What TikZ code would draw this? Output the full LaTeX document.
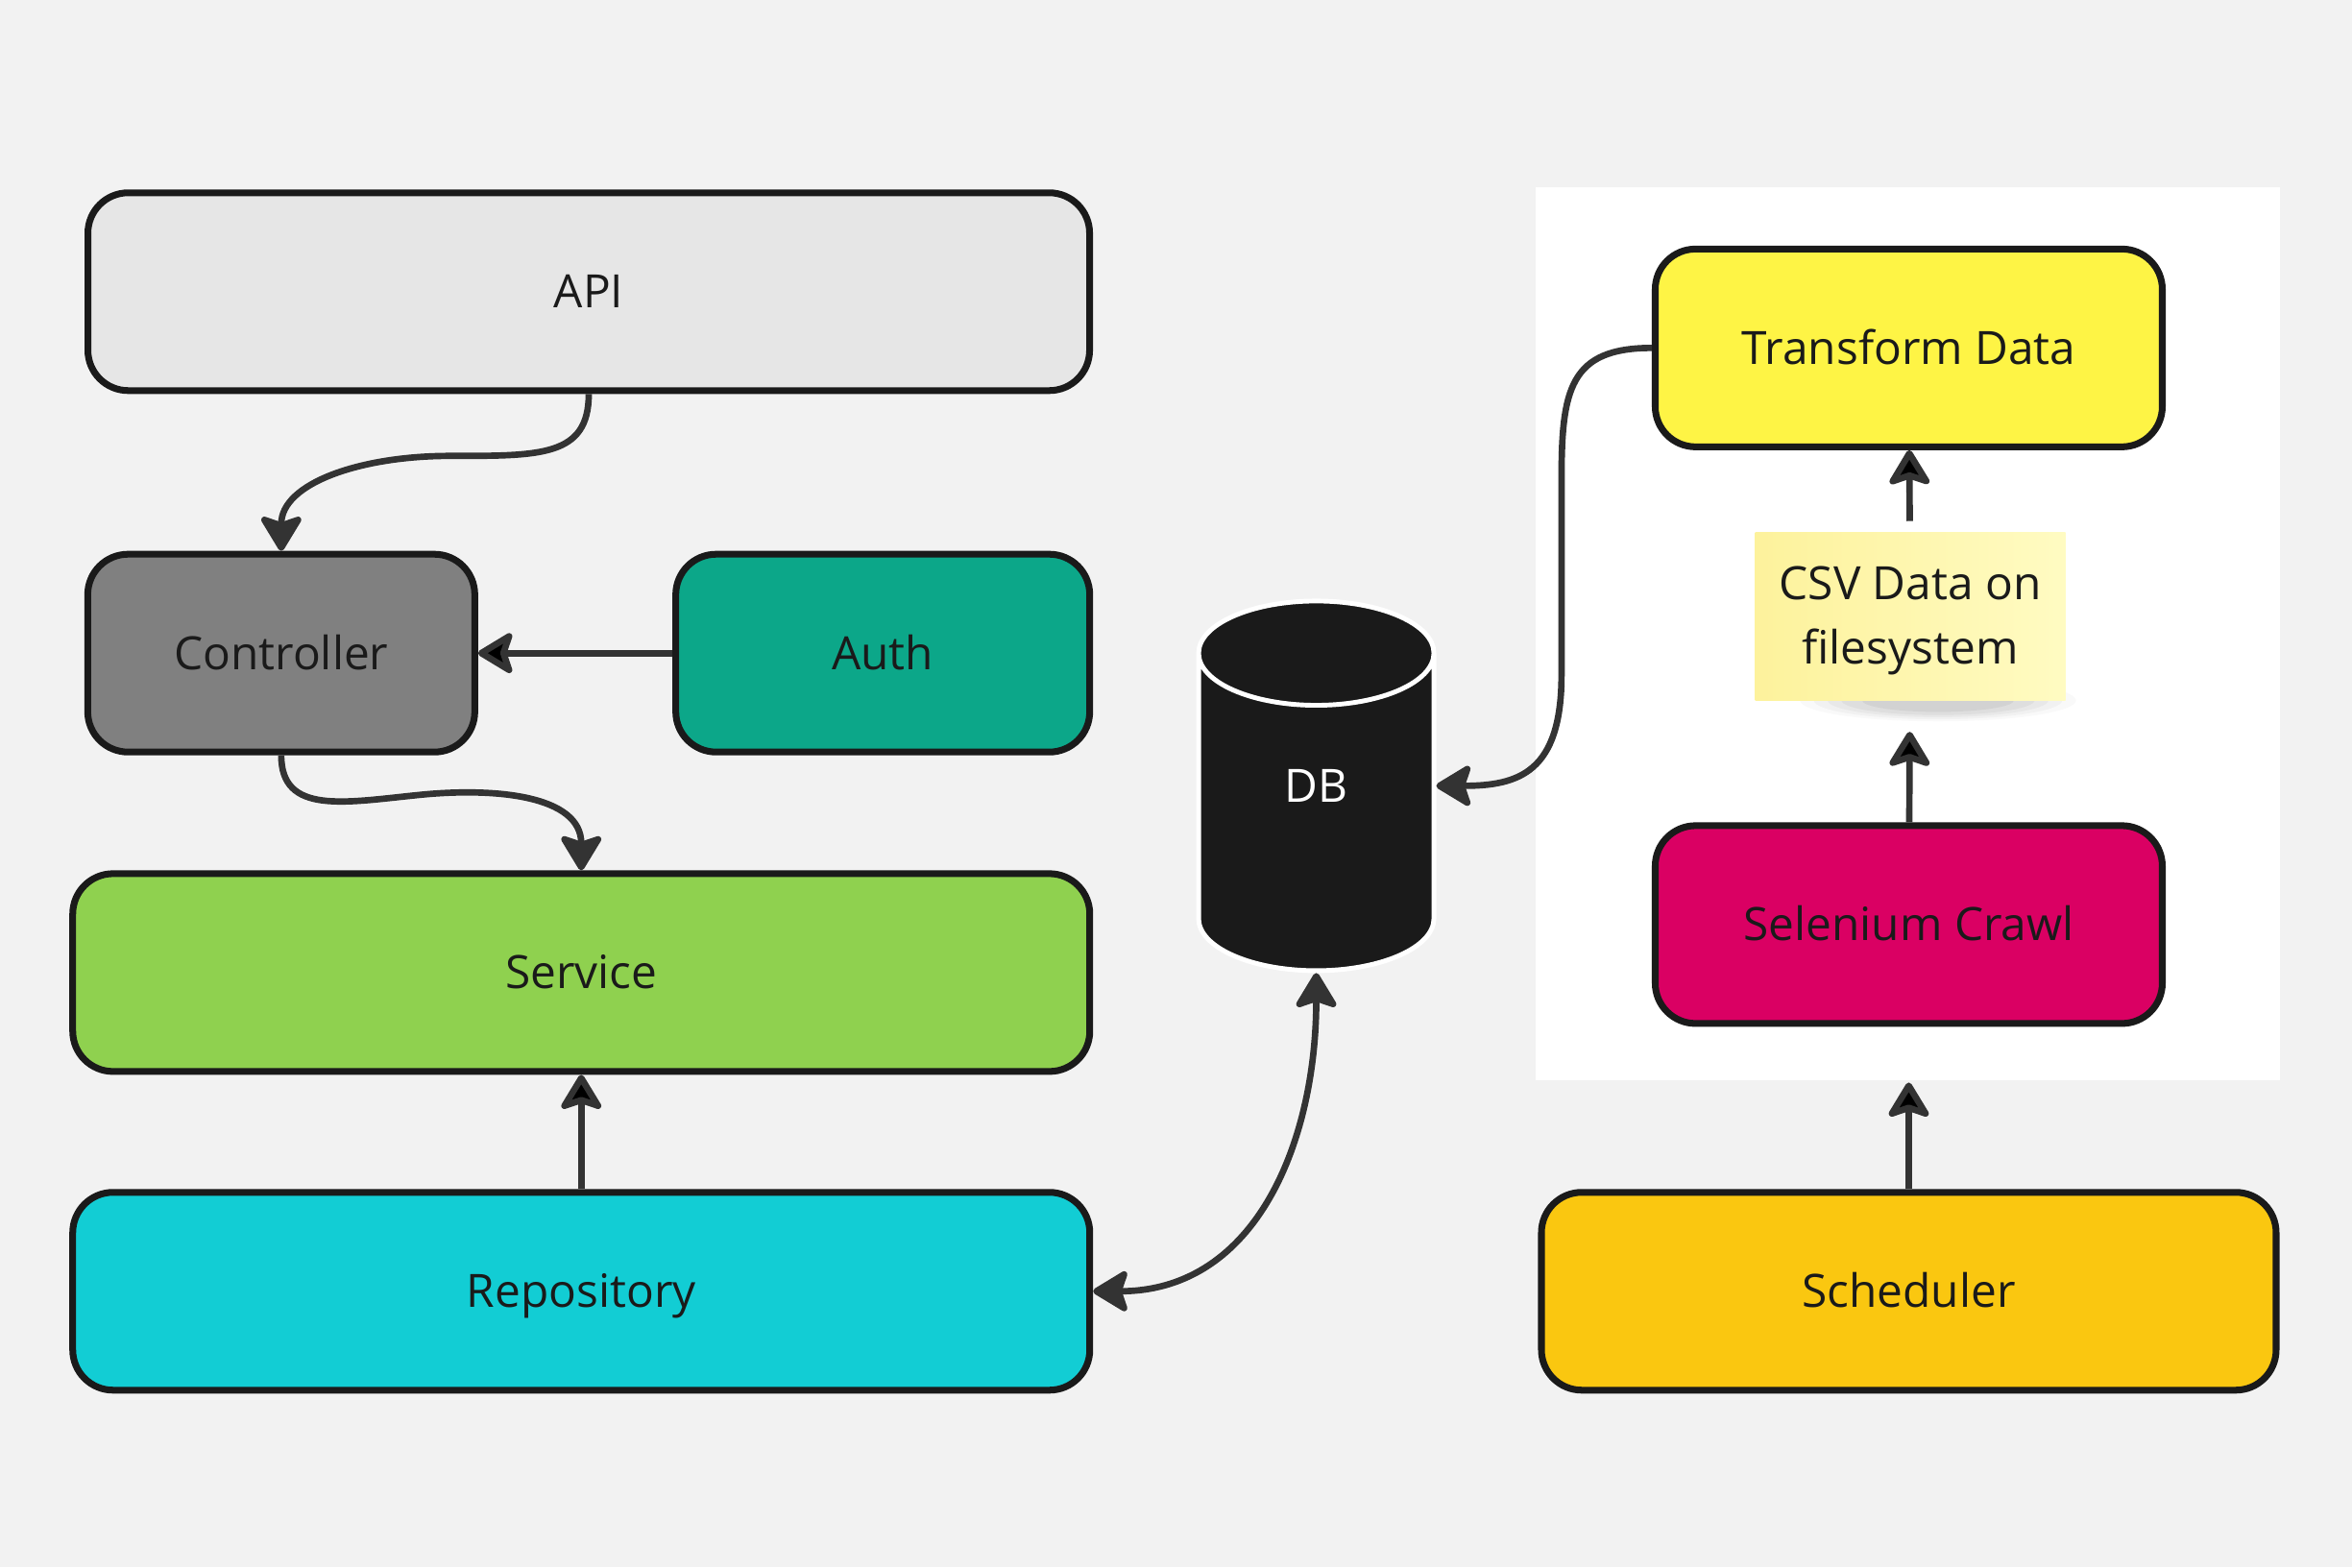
\documentclass[tikz,border=0pt]{standalone}
\usepackage{fontspec}
\setmainfont{Open Sans}
\usepackage{tikz}
\usetikzlibrary{arrows.meta,positioning,shapes.geometric}

\definecolor{canvas}{HTML}{F2F2F2}
\definecolor{edge}{HTML}{1A1A1A}
\definecolor{ink}{HTML}{1A1A1A}
\definecolor{wire}{HTML}{333333}
\definecolor{apigray}{HTML}{E6E6E6}
\definecolor{ctrlgray}{HTML}{808080}
\definecolor{authteal}{HTML}{0CA789}
\definecolor{servgreen}{HTML}{8FD14F}
\definecolor{repocyan}{HTML}{12CDD4}
\definecolor{dbblack}{HTML}{1A1A1A}
\definecolor{transyellow}{HTML}{FEF445}
\definecolor{selmagenta}{HTML}{DA0063}
\definecolor{schedgold}{HTML}{FAC710}
\definecolor{noteA}{HTML}{FDF29C}
\definecolor{noteB}{HTML}{FFFBC2}

\begin{document}
\begin{tikzpicture}[x=0.15619mm,y=-0.15619mm,
                    >={Stealth[length=4.1mm,width=4.9mm,inset=0.8mm,round]},
                    font=\fontsize{13.6}{19}\selectfont]
  \tikzstyle{block}=[rectangle,rounded corners=4.2mm,draw=edge,line width=2pt,
                     minimum height=20.6mm,inner sep=0pt,text=ink,
                     text height=13.1pt,text depth=3.4pt]
  \tikzstyle{conn}=[->,draw=wire,line width=1.9pt]

  \fill[canvas] (0,0) rectangle (1568,1045);
  \useasboundingbox (0,0) rectangle (1568,1045);

  % crawler area
  \node[fill=white,minimum width=77.5mm,minimum height=93mm,inner sep=0pt] (panel) at (1272,422.5) {};

  \node[block,fill=apigray,minimum width=104.3mm]    (api)        at (392.5,194.5) {API};
  \node[block,fill=ctrlgray,minimum width=40.3mm]    (controller) at (187.5,435.5) {Controller};
  \node[block,fill=authteal,minimum width=43.1mm]    (auth)       at (588.5,435.5) {Auth};
  \node[block,fill=servgreen,minimum width=105.9mm]  (service)    at (387.5,648.5) {Service};
  \node[block,fill=repocyan,minimum width=105.9mm]   (repository) at (387.5,861)   {Repository};

  \node[cylinder,shape border rotate=90,aspect=1.65,draw=white,fill=dbblack,line width=1.4pt,
        minimum width=24.5mm,minimum height=38.5mm,inner sep=0pt,text=white,
        anchor=shape center] (db) at (877.5,524) {\smash{\raisebox{1.1mm}{DB}}};

  \node[block,fill=transyellow,minimum width=52.8mm] (transform)  at (1272.5,232)   {Transform Data};
  \node[block,fill=selmagenta,minimum width=52.8mm]  (selenium)   at (1272.5,616.5) {Selenium Crawl};
  \node[block,fill=schedgold,minimum width=76.5mm]   (scheduler)  at (1272.5,861)   {Scheduler};

  % sticky note with its shadow
  \foreach \s/\o in {1.0/0.025,0.9/0.03,0.8/0.035,0.7/0.04,0.55/0.05}
    \fill[black,opacity=\o] (1292,467) ellipse[x radius=\s*92,y radius=\s*14];
  \node[left color=noteA,right color=noteB,minimum width=32.3mm,minimum height=17.5mm,
        align=center,text=ink] (note) at (1273.5,411) {\rule{0pt}{12.6pt}CSV Data on\\filesystem};

  \draw[conn] (api.south) .. controls +(0,42) and +(60,0) .. (300,304)
              .. controls +(-60,0) and +(0,-45) .. (controller.north);
  \draw[conn] (controller.south) .. controls +(0,40) and +(-50,5) .. (280,530)
              .. controls +(50,-5) and +(0,-50) .. (service.north);
  \path[conn] (auth) edge (controller)
              (repository) edge (service);
  \draw[conn,<->] (repository.east) .. controls +(110,0) and +(0,110) .. (db.south);
  \draw[conn] (transform.west) .. controls +(-55,0) and +(0,-60) .. (1041,320)
              -- (1041,450) .. controls +(0,65) and +(55,0) .. (db.shape center -| db.east);

  \path[conn] (note) edge[shorten <=1.1mm] (transform)
              (selenium) edge[shorten >=3.2mm] (note)
              (scheduler) edge[shorten >=5.8mm] (selenium);
\end{tikzpicture}
\end{document}
